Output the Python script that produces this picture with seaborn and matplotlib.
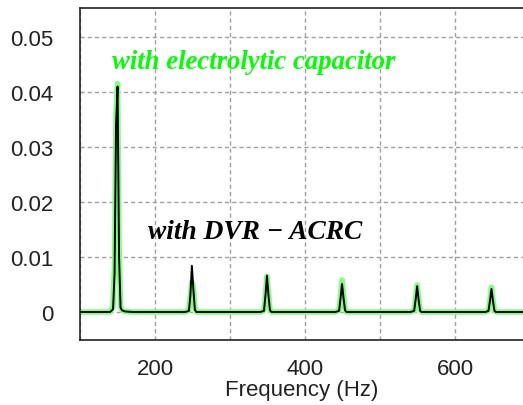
import pandas as pd
import seaborn as sns
import matplotlib.pyplot as plt

# spectrum samples (Hz, amplitude)
freq = [100, 120, 140, 144, 146, 148, 150, 152, 154, 156, 160, 170,
        240, 245, 247, 249, 251, 253, 255, 260,
        340, 345, 347, 349, 351, 353, 355, 360,
        440, 445, 447, 449, 451, 453, 455, 460,
        540, 545, 547, 549, 551, 553, 555, 560,
        640, 644, 646, 648, 650, 652, 654, 660, 700]
dvr_acrc = [0.0, 0.0, 0.0, 0.0005, 0.007, 0.034, 0.041, 0.010, 0.0008, 0.0003, 0.0001, 0.0,
            0.0, 0.0002, 0.003, 0.0084, 0.004, 0.0004, 0.0, 0.0,
            0.0, 0.0002, 0.003, 0.0066, 0.003, 0.0003, 0.0, 0.0,
            0.0, 0.0002, 0.0025, 0.0051, 0.0025, 0.0003, 0.0, 0.0,
            0.0, 0.0002, 0.0022, 0.0047, 0.0022, 0.0002, 0.0, 0.0,
            0.0, 0.0002, 0.002, 0.0042, 0.002, 0.0002, 0.0, 0.0, 0.0]
electrolytic = [0.0, 0.0, 0.0, 0.001, 0.009, 0.036, 0.0415, 0.012, 0.001, 0.0003, 0.0001, 0.0,
                0.0, 0.0003, 0.003, 0.0055, 0.0045, 0.0008, 0.0, 0.0,
                0.0, 0.0003, 0.0032, 0.0065, 0.0035, 0.0004, 0.0, 0.0,
                0.0, 0.0003, 0.003, 0.0058, 0.003, 0.0004, 0.0, 0.0,
                0.0, 0.0003, 0.0025, 0.0049, 0.0025, 0.0003, 0.0, 0.0,
                0.0, 0.0003, 0.0022, 0.0045, 0.0022, 0.0003, 0.0, 0.0, 0.0]

df = pd.DataFrame({'freq': freq, 'dvr': dvr_acrc, 'elec': electrolytic})

sns.set_style("white")
plt.rcParams['font.family'] = ['Liberation Sans', 'DejaVu Sans']

fig = plt.figure(figsize=(5.23, 4.06), dpi=100)
ax = fig.add_axes([0.153, 0.160, 0.847, 0.818])

sns.lineplot(data=df, x='freq', y='elec', ax=ax, color='#80ff80', linewidth=4, zorder=2)
sns.lineplot(data=df, x='freq', y='dvr', ax=ax, color='black', linewidth=1.4, zorder=3)

ax.set_xlim(100, 690)
ax.set_ylim(-0.0051, 0.0553)
ax.set_xticks([100, 200, 300, 400, 500, 600])
ax.set_xticklabels(['', '200', '', '400', '', '600'])
ax.set_yticks([0, 0.01, 0.02, 0.03, 0.04, 0.05])
ax.set_yticklabels(['0', '0.01', '0.02', '0.03', '0.04', '0.05'])
ax.tick_params(axis='y', length=0, labelsize=16, pad=19, colors='#222222')
ax.tick_params(axis='x', length=0, labelsize=16, pad=13, colors='#222222')
ax.grid(True, linestyle=(0, (3, 2.2)), color='#a0a0a0', linewidth=1)
ax.set_axisbelow(True)

for side in ['left', 'top', 'bottom']:
    ax.spines[side].set_color('#222222')
    ax.spines[side].set_linewidth(1.2)
ax.spines['right'].set_visible(False)

ax.set_xlabel('Frequency (Hz)', fontsize=16, color='#222222', labelpad=0)
ax.set_ylabel('')

ax.text(142, 0.0456, 'with electrolytic capacitor', color='#00ff00',
        family='Liberation Serif', style='italic', weight='bold',
        fontsize=19.3, va='center', ha='left')
ax.text(191, 0.0147, 'with DVR \u2212 ACRC', color='black',
        family='Liberation Serif', style='italic', weight='bold',
        fontsize=19.7, va='center', ha='left')

fig.savefig('out.png', dpi=100)
